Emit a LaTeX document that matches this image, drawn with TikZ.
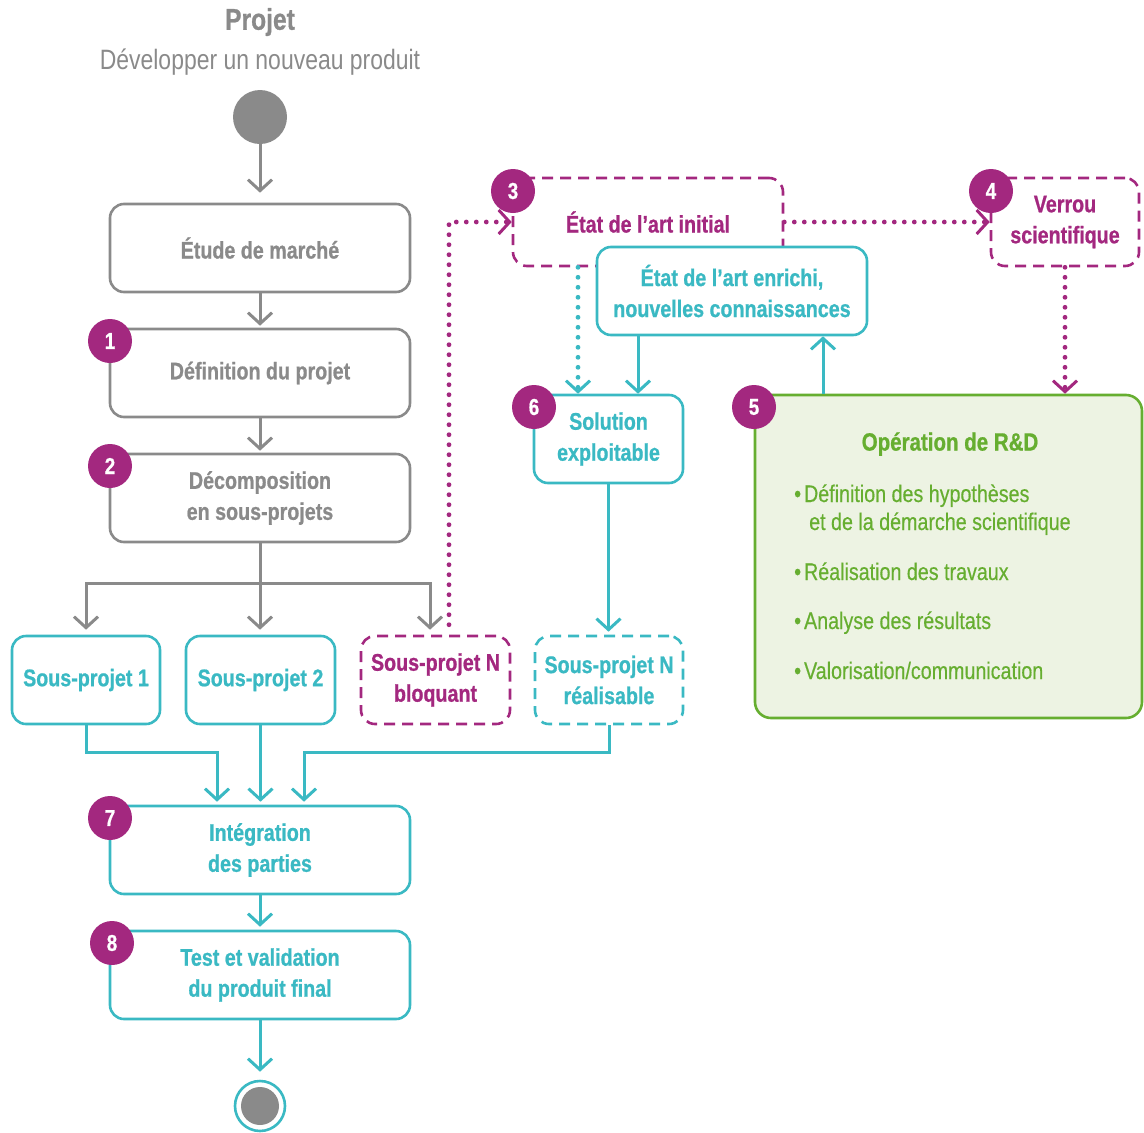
\documentclass[tikz,border=0pt]{standalone}
\usepackage{fontspec}
\setmainfont{Liberation Sans}[FakeStretch=0.82, BoldFeatures={FakeBold=0.8}]
\newfontfamily\medfont{Liberation Sans}[FakeStretch=0.82, FakeBold=0.4]
\usetikzlibrary{arrows.meta,calc}
\definecolor{cgray}{HTML}{8A8A8A}
\definecolor{cpurple}{HTML}{A3287F}
\definecolor{cteal}{HTML}{3AB9C3}
\definecolor{cgreen}{HTML}{66AE30}
\definecolor{cgreenfill}{HTML}{EDF3E3}
\tikzset{
  lbl/.style={font=\bfseries\fontsize{24}{31}\selectfont, align=center},
  boxbase/.style={lbl, rounded corners=14pt, line width=2.6pt, minimum height=88pt, inner sep=0pt},
  gbox/.style={boxbase, draw=cgray, text=cgray, minimum width=300pt},
  tbox/.style={boxbase, draw=cteal, text=cteal, minimum width=#1},
  tbox/.default=300pt,
  tdbox/.style={boxbase, draw=cteal, text=cteal, minimum width=#1, dash pattern=on 11pt off 7pt},
  pdbox/.style={boxbase, draw=cpurple, text=cpurple, minimum width=#1, dash pattern=on 11pt off 7pt},
  badge/.style={circle, fill=cpurple, text=white, minimum size=44pt, inner sep=0pt, font=\bfseries\fontsize{23}{24}\selectfont},
  tipb/.style={-{Straight Barb[length=11pt,width=24pt,line width=3pt]}},
  garrow/.style={tipb, draw=cgray, line width=3pt},
  gline/.style={draw=cgray, line width=3pt},
  tarrow/.style={tipb, draw=cteal, line width=3pt},
  pdot/.style={tipb, draw=cpurple, line width=4.8pt, line cap=round, dash pattern=on 0pt off 10pt},
  tdot/.style={tipb, draw=cteal, line width=4.8pt, line cap=round, dash pattern=on 0pt off 10pt},
  rdtext/.style={anchor=base west, text=cgreen, font=\medfont\fontsize{24}{28}\selectfont, inner sep=0pt},
}
\begin{document}
\begin{tikzpicture}[x=1pt,y=-1pt]
\useasboundingbox (0,0) rectangle (1144,1133);
% title
\node[text=cgray, font=\bfseries\fontsize{30}{32}\selectfont] (title) at (260,22) {Projet};
\node[text=cgray, font=\fontsize{28}{30}\selectfont] (subtitle) at (260,62) {Développer un nouveau produit};
\node[circle, fill=cgray, minimum size=54pt, inner sep=0pt] (start) at (260,117) {};
% left column
\node[gbox] (etude) at (260,248) {Étude de marché};
\node[gbox] (defin) at (260,373) {Définition du projet};
\node[gbox] (decomp) at (260,498) {Décomposition\\en sous-projets};
% sub-projects
\node[tbox=148pt] (sp1) at (86,680) {Sous-projet 1};
\node[tbox=149pt] (sp2) at (260.5,680) {Sous-projet 2};
\node[pdbox=149pt] (spnb) at (435.5,680) {Sous-projet N\\bloquant};
\node[tdbox=148pt] (spnr) at (609,680) {Sous-projet N\\réalisable};
% R&D part
\node[pdbox=270pt] (etat) at (648,222) {État de l’art initial};
\node[tbox=270pt, fill=white] (enrichi) at (732,291) {État de l’art enrichi,\\nouvelles connaissances};
\node[pdbox=148pt] (verrou) at (1065,222) {Verrou\\scientifique};
\node[tbox=149pt] (solution) at (608.5,439) {Solution\\exploitable};
\node[draw=cgreen, fill=cgreenfill, line width=2.6pt, rounded corners=16pt, minimum width=387pt, minimum height=323pt, inner sep=0pt] (rd) at (948.5,556.5) {};
\node[text=cgreen, font=\bfseries\fontsize{25}{28}\selectfont] (rdtitle) at (950,444) {Opération de R\&D};
\node[rdtext] (b1) at (794,502) {•\hspace{3pt}Définition des hypothèses};
\node[rdtext] (b1b) at (809,530) {et de la démarche scientifique};
\node[rdtext] (b2) at (794,580) {•\hspace{3pt}Réalisation des travaux};
\node[rdtext] (b3) at (794,629) {•\hspace{3pt}Analyse des résultats};
\node[rdtext] (b4) at (794,679) {•\hspace{3pt}Valorisation/communication};
% bottom
\node[tbox] (integ) at (260,850) {Intégration\\des parties};
\node[tbox] (test) at (260,975) {Test et validation\\du produit final};
\node[circle, draw=cteal, line width=2.6pt, fill=white, minimum size=50pt, inner sep=0pt] (endc) at (260,1106) {};
\node[circle, fill=cgray, minimum size=38pt, inner sep=0pt] (endin) at (endc) {};
% connectors gray
\draw[garrow, shorten >=10pt] (start) -- (etude);
\draw[garrow, shorten >=2pt] (etude) -- (defin);
\draw[garrow, shorten >=2pt] (defin) -- (decomp);
\coordinate (br) at (260,583);
\draw[gline] (decomp.south) -- (br);
\draw[garrow, shorten >=5pt] (br) -| (sp1.north);
\draw[garrow, shorten >=5pt] (br) -- (br |- sp2.north);
\coordinate (spnbin) at ([xshift=-5.5pt]spnb.north);
\draw[garrow, shorten >=5pt] (br) -| (spnbin);
% dotted purple
\coordinate (spnbout) at ([xshift=13.5pt,yshift=10pt]spnb.north);
\draw[pdot] (spnbout) |- (etat.west);
\draw[pdot] (etat.east) -- (verrou.west);
\draw[pdot] (verrou.south) -- (verrou.south |- rd.north);
% teal inside R&D
\coordinate (e3) at ([xshift=-70pt]etat.south);
\draw[tdot] (e3) -- (e3 |- solution.north);
\coordinate (en) at ([xshift=-94pt]enrichi.south);
\draw[tarrow] (en) -- (en |- solution.north);
\coordinate (r5) at ([xshift=-125.5pt]rd.north);
\draw[tarrow] (r5) -- (r5 |- enrichi.south);
\draw[tarrow, shorten >=3pt] (solution.south) -- (solution.south |- spnr.north);
% merge
\coordinate (m1) at (217,752);
\coordinate (m3) at (304,752);
\draw[tarrow, shorten >=3pt] (sp1.south) |- (m1) -- (m1 |- integ.north);
\draw[tarrow, shorten >=3pt] (sp2.south) -- (sp2.south |- integ.north);
\draw[tarrow, shorten >=3pt] (spnr.south) |- (m3) -- (m3 |- integ.north);
\draw[tarrow, shorten >=3pt] (integ) -- (test);
\draw[tarrow, shorten >=8pt] (test) -- (endc);
% badges
\node[badge] (n1) at (110,341) {1};
\node[badge] (n2) at (110,466) {2};
\node[badge] (n3) at (513,191) {3};
\node[badge] (n4) at (991,191) {4};
\node[badge] (n5) at (754,407) {5};
\node[badge] (n6) at (534,407) {6};
\node[badge] (n7) at (110,818) {7};
\node[badge] (n8) at (112,943) {8};
\end{tikzpicture}
\end{document}
